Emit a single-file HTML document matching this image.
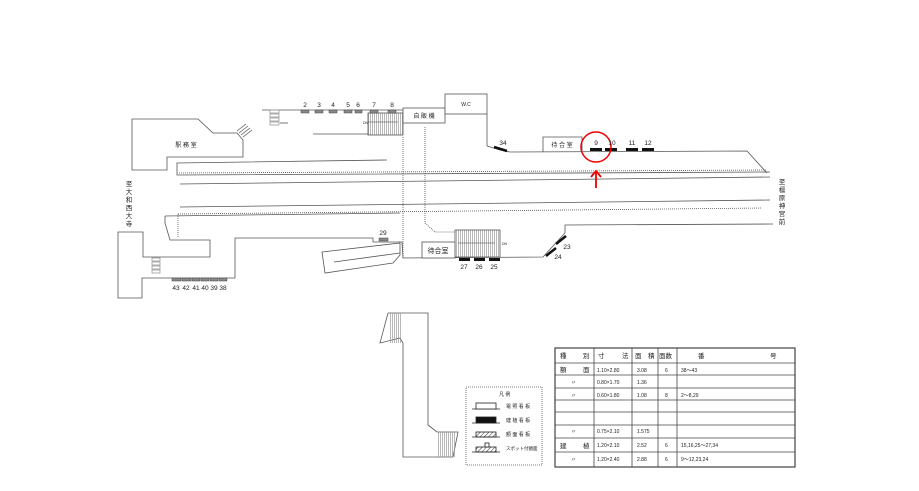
<!DOCTYPE html>
<html><head><meta charset="utf-8"><style>
html,body{margin:0;padding:0;background:#fff;width:919px;height:491px;overflow:hidden}
svg{display:block}
text{font-family:"Liberation Sans","Noto Sans CJK JP",sans-serif;fill:#222}
</style></head><body>
<svg width="919" height="491" viewBox="0 0 919 491" xmlns="http://www.w3.org/2000/svg">
<defs>
<pattern id="hatch" width="3" height="3" patternUnits="userSpaceOnUse" patternTransform="rotate(45)"><line x1="0" y1="0" x2="0" y2="3" stroke="#333" stroke-width="1"/></pattern>
<pattern id="vst" width="2" height="4" patternUnits="userSpaceOnUse"><line x1="0.5" y1="0" x2="0.5" y2="4" stroke="#999" stroke-width="0.7"/></pattern>
</defs>
<g fill="none" stroke="#555" stroke-width="0.8">
<!-- 駅務室 -->
<polygon points="132,119 198,119 213,133 237,133 243,140 243,157 167,157 167,170 132,170" fill="#fff"/>
<g stroke="#777"><line x1="237" y1="131" x2="246" y2="124"/><line x1="239" y1="133" x2="248" y2="126"/><line x1="241" y1="135" x2="250" y2="128"/><line x1="243" y1="137" x2="252" y2="130"/></g>
<!-- top platform -->
<line x1="262" y1="110" x2="403" y2="110"/>
<g stroke="#999"><rect x="270" y="110" width="9" height="3"/><rect x="270" y="114" width="9" height="3"/><rect x="270" y="118" width="9" height="3"/><rect x="270" y="122" width="9" height="3"/></g>
<line x1="280" y1="123" x2="288" y2="123"/>
<line x1="313" y1="134" x2="368" y2="134"/>
<rect x="368" y="113" width="35" height="22" fill="url(#vst)"/>
<line x1="368" y1="122" x2="398" y2="122" stroke="#444" stroke-width="0.6"/>
<rect x="403" y="108" width="42" height="15" fill="#fff"/>
<rect x="445" y="94" width="42" height="20" fill="#fff"/>
<polyline points="487,114 487,146 500,150 510,152 747,151 767,173"/>
<polyline points="543,152 543,137 582,137 582,152"/>
<!-- main box upper -->
<polyline points="387,160 177,163 177,175 770,172"/>
<line x1="179" y1="173" x2="767" y2="170" stroke-dasharray="1,1"/>
<line x1="180" y1="184" x2="770" y2="177"/>
<line x1="180" y1="207" x2="770" y2="200"/>
<line x1="178" y1="214" x2="762" y2="208" stroke-dasharray="1,1"/>
<line x1="165" y1="216" x2="400" y2="213"/>
<line x1="178" y1="214" x2="178" y2="238" stroke-dasharray="1,1"/>
<!-- lower -->
<polyline points="165,216 165,223 170,240 210,240 210,257 143,257 143,232 118,232 118,298 142,298 142,278 235,278 235,238 373,238 373,242 402,242 403,258 543,257 565,233 565,225 773,224"/>
<g stroke="#999"><rect x="152" y="258" width="8" height="3"/><rect x="152" y="262" width="8" height="3"/><rect x="152" y="266" width="8" height="3"/><rect x="152" y="270" width="8" height="3"/></g>
<polygon points="322,252 400,243 400,255 393,263 325,273" fill="#fff"/>
<line x1="334" y1="262" x2="400" y2="253"/>
<line x1="403" y1="137" x2="403" y2="258" stroke-dasharray="1,1"/>
<polyline points="425,127 425,223 435,232 455,232" stroke-dasharray="1,1"/>
<rect x="455" y="230" width="45" height="27" fill="url(#vst)"/>
<line x1="458" y1="243" x2="495" y2="243" stroke="#444" stroke-width="0.6"/>
<rect x="422" y="242" width="33" height="16" fill="#fff"/>
<!-- bottom building -->
<polyline points="388,313 428,313 428,425 437,432 458,432 453,457 403,457 403,343 400,338 380,343 388,313"/>
<rect x="390" y="313" width="12" height="30" fill="url(#vst)" stroke="none"/>
<rect x="437" y="432" width="19" height="25" fill="url(#vst)" stroke="none"/>
<rect x="466" y="387" width="76" height="78" stroke-dasharray="1,1"/>
</g>
<!-- sign bars -->
<g fill="#888" stroke="#444" stroke-width="0.5">
<rect x="301" y="110" width="8" height="3"/><rect x="315" y="110" width="8" height="3"/><rect x="329" y="110" width="8" height="3"/><rect x="344" y="110" width="8" height="3"/><rect x="355" y="110" width="7" height="3"/><rect x="370" y="110" width="8" height="3"/><rect x="388" y="110" width="8" height="3"/>
<rect x="379" y="238" width="9" height="3"/>
<rect x="172" y="278" width="9" height="3"/><rect x="182" y="278" width="9" height="3"/><rect x="192" y="278" width="8" height="3"/><rect x="201" y="278" width="8" height="3"/><rect x="210" y="278" width="8" height="3"/><rect x="219" y="278" width="8" height="3"/>
</g>
<g fill="#111">
<rect x="590" y="148" width="12" height="3"/><rect x="605" y="148" width="12" height="3"/><rect x="626" y="148" width="12" height="3"/><rect x="642" y="148" width="12" height="3"/>
<rect x="459" y="258" width="11" height="3"/><rect x="474" y="258" width="11" height="3"/><rect x="489" y="258" width="11" height="3"/>
</g>
<g stroke="#111" stroke-width="2.5">
<line x1="494" y1="147" x2="507" y2="151"/>
<line x1="556" y1="244" x2="566" y2="236"/><line x1="546" y1="256" x2="556" y2="248"/>
</g>
<!-- red marker -->
<circle cx="596" cy="147" r="15" fill="none" stroke="#e00" stroke-width="1.5"/>
<line x1="596" y1="188" x2="596" y2="172" stroke="#e00" stroke-width="1.8"/>
<polyline points="591,177 596,171 601,177" fill="none" stroke="#e00" stroke-width="1.8"/>
<!-- labels -->
<g font-size="6.5" text-anchor="middle">
<text x="305" y="107">2</text><text x="319" y="107">3</text><text x="333" y="107">4</text><text x="348" y="107">5</text><text x="358" y="107">6</text><text x="374" y="107">7</text><text x="392" y="107">8</text>
<text x="503" y="145">34</text>
<text x="596" y="145">9</text><text x="612" y="145">10</text><text x="632" y="145">11</text><text x="648" y="145">12</text>
<text x="383" y="235">29</text>
<text x="464" y="269">27</text><text x="479" y="269">26</text><text x="494" y="269">25</text>
<text x="567" y="249">23</text><text x="558" y="259">24</text>
<text x="176" y="290">43</text><text x="186" y="290">42</text><text x="196" y="290">41</text><text x="205" y="290">40</text><text x="214" y="290">39</text><text x="223" y="290">38</text>
</g>
<g font-size="6" text-anchor="middle">
<text x="186" y="147">駅 務 室</text>
<text x="424" y="118">自 販 機</text>
<text x="466" y="106" font-size="5">W.C</text>
<text x="562" y="147">待 合 室</text>
<text x="438" y="253" font-size="7">待合室</text>
</g>
<text x="363" y="124" font-size="3.5">DN</text><text x="502" y="245" font-size="3.5">DN</text>
<g font-size="6.5" text-anchor="middle">
<text x="129" y="186">至</text><text x="129" y="194">大</text><text x="129" y="202">和</text><text x="129" y="210">西</text><text x="129" y="218">大</text><text x="129" y="226">寺</text>
<text x="782" y="184">至</text><text x="782" y="192">橿</text><text x="782" y="200">原</text><text x="782" y="208">神</text><text x="782" y="216">宮</text><text x="782" y="224">前</text>
</g>
<!-- legend -->
<g font-size="5">
<text x="499" y="396">凡 例</text>
<text x="506" y="408">電 照 看 板</text><text x="506" y="422">建 植 看 板</text><text x="506" y="436">額 面 看 板</text><text x="506" y="450" font-size="4.5">スポット付額面</text>
</g>
<g stroke="#222" stroke-width="0.8">
<line x1="472" y1="409" x2="500" y2="409"/><rect x="476" y="403" width="20" height="6" fill="#fff"/>
<line x1="472" y1="423" x2="500" y2="423"/><rect x="476" y="417" width="20" height="6" fill="#111"/>
<line x1="472" y1="437" x2="500" y2="437"/><rect x="476" y="432" width="20" height="5" fill="url(#hatch)"/>
<line x1="472" y1="452" x2="500" y2="452"/><rect x="476" y="447" width="20" height="5" fill="url(#hatch)"/><rect x="485" y="443" width="4" height="4" fill="#fff"/>
</g>
<!-- table -->
<g stroke="#444" stroke-width="0.8" fill="none">
<rect x="555" y="348" width="240" height="119" stroke-width="1.2"/>
<line x1="594" y1="348" x2="594" y2="467"/><line x1="632" y1="348" x2="632" y2="467"/><line x1="658" y1="348" x2="658" y2="467"/><line x1="677" y1="348" x2="677" y2="467"/>
<line x1="555" y1="363" x2="795" y2="363"/><line x1="555" y1="375" x2="795" y2="375"/><line x1="555" y1="388" x2="795" y2="388"/><line x1="555" y1="400" x2="795" y2="400"/><line x1="555" y1="412" x2="795" y2="412"/><line x1="555" y1="425" x2="795" y2="425"/><line x1="555" y1="438" x2="795" y2="438"/><line x1="555" y1="452" x2="795" y2="452"/>
</g>
<g font-size="6.5">
<text x="560" y="358">種</text><text x="583" y="358">別</text><text x="598" y="358">寸</text><text x="622" y="358">法</text><text x="635" y="358">面　積</text><text x="659" y="358">面数</text><text x="698" y="358">番</text><text x="770" y="358">号</text>
<text x="560" y="372">額</text><text x="583" y="372">面</text><text x="560" y="448">建</text><text x="583" y="448">植</text>
</g>
<g font-size="5">
<text x="597" y="372">1.10×2.80</text><text x="637" y="372">3.08</text><text x="665" y="372">6</text><text x="681" y="372">38～43</text>
<text x="571" y="384">〃</text><text x="597" y="384">0.80×1.70</text><text x="637" y="384">1.36</text>
<text x="571" y="397">〃</text><text x="597" y="397">0.60×1.80</text><text x="637" y="397">1.08</text><text x="665" y="397">8</text><text x="681" y="397">2～8,29</text>
<text x="571" y="433">〃</text><text x="597" y="433">0.75×2.10</text><text x="637" y="433">1.575</text>
<text x="597" y="447">1.20×2.10</text><text x="637" y="447">2.52</text><text x="665" y="447">6</text><text x="681" y="447">15,16,25～27,34</text>
<text x="571" y="461">〃</text><text x="597" y="461">1.20×2.40</text><text x="637" y="461">2.88</text><text x="665" y="461">6</text><text x="681" y="461">9～12,23,24</text>
</g>
</svg>
</body></html>
